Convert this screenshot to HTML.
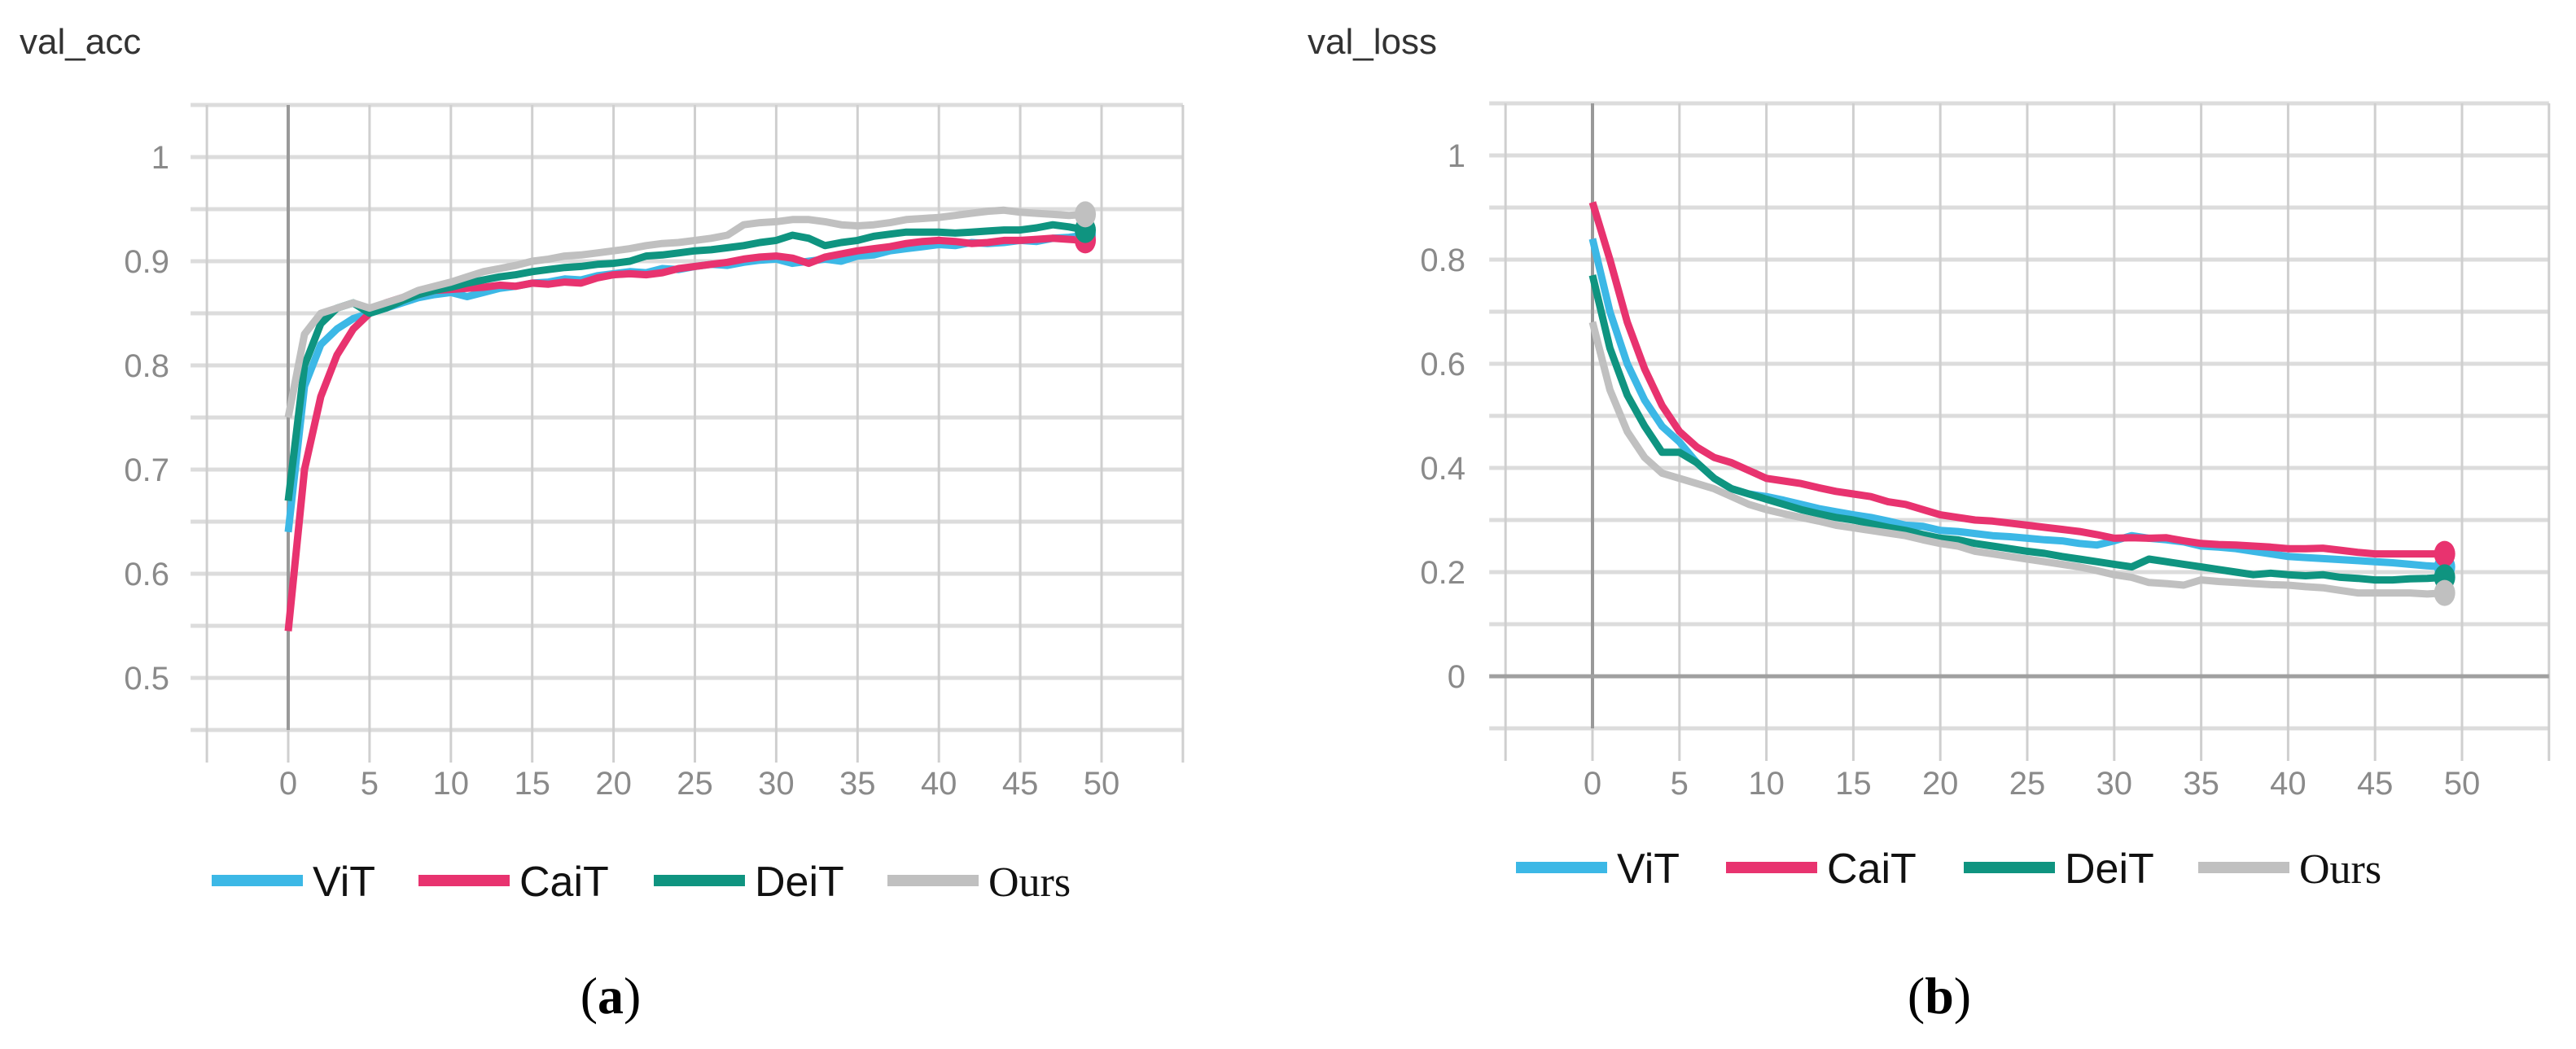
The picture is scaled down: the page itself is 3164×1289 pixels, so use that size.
<!DOCTYPE html>
<html><head><meta charset="utf-8"><style>
html,body{margin:0;padding:0;background:#fff;}
svg{display:block;}
.tick{font-family:"Liberation Sans",sans-serif;font-size:40px;fill:#8a8a8a;}
.title{font-family:"Liberation Sans",sans-serif;font-size:44px;fill:#333;}
.leg{font-family:"Liberation Sans",sans-serif;font-size:52px;fill:#111;}
.cap{font-family:"Liberation Serif",serif;font-size:64px;fill:#000;}
</style></head><body>
<svg id="fig" width="3164" height="1289" viewBox="0 0 3164 1289" xmlns="http://www.w3.org/2000/svg"></svg>
<script>
const epochs = Array.from({length:50},(_,i)=>i);
const seriesNames = ["ViT","CaiT","DeiT","Ours"];
const accViT  = [0.64,0.78,0.82,0.835,0.845,0.85,0.855,0.86,0.865,0.868,0.87,0.866,0.87,0.874,0.876,0.879,0.88,0.883,0.882,0.886,0.888,0.89,0.889,0.893,0.892,0.895,0.897,0.896,0.899,0.901,0.902,0.898,0.9,0.902,0.9,0.905,0.906,0.91,0.912,0.914,0.916,0.915,0.918,0.917,0.918,0.92,0.919,0.922,0.923,0.925];
const accCaiT = [0.545,0.70,0.77,0.81,0.835,0.85,0.86,0.865,0.868,0.872,0.873,0.874,0.875,0.877,0.876,0.879,0.878,0.88,0.879,0.884,0.887,0.888,0.887,0.889,0.893,0.895,0.897,0.899,0.902,0.904,0.905,0.903,0.898,0.904,0.907,0.91,0.912,0.914,0.917,0.919,0.92,0.919,0.917,0.918,0.92,0.92,0.921,0.922,0.921,0.92];
const accDeiT = [0.67,0.80,0.84,0.855,0.86,0.85,0.855,0.862,0.868,0.872,0.875,0.879,0.882,0.885,0.887,0.89,0.892,0.894,0.895,0.897,0.898,0.9,0.905,0.906,0.908,0.91,0.911,0.913,0.915,0.918,0.92,0.925,0.922,0.915,0.918,0.92,0.924,0.926,0.928,0.928,0.928,0.927,0.928,0.929,0.93,0.93,0.932,0.935,0.933,0.93];
const accOurs = [0.75,0.83,0.85,0.855,0.86,0.855,0.86,0.865,0.872,0.876,0.88,0.885,0.89,0.893,0.896,0.9,0.902,0.905,0.906,0.908,0.91,0.912,0.915,0.917,0.918,0.92,0.922,0.925,0.935,0.937,0.938,0.94,0.94,0.938,0.935,0.934,0.935,0.937,0.94,0.941,0.942,0.944,0.946,0.948,0.949,0.947,0.946,0.945,0.944,0.945];
const lossViT  = [0.84,0.70,0.60,0.53,0.48,0.45,0.41,0.38,0.36,0.35,0.345,0.338,0.33,0.322,0.316,0.31,0.305,0.298,0.29,0.288,0.28,0.278,0.274,0.27,0.268,0.265,0.262,0.26,0.255,0.252,0.26,0.27,0.265,0.262,0.258,0.25,0.248,0.245,0.24,0.235,0.23,0.228,0.226,0.224,0.222,0.22,0.218,0.215,0.212,0.21];
const lossCaiT = [0.91,0.80,0.68,0.59,0.52,0.47,0.44,0.42,0.41,0.395,0.38,0.375,0.37,0.362,0.355,0.35,0.345,0.335,0.33,0.32,0.31,0.305,0.30,0.298,0.294,0.29,0.286,0.282,0.278,0.272,0.265,0.266,0.265,0.266,0.26,0.255,0.253,0.252,0.25,0.248,0.245,0.245,0.246,0.242,0.238,0.235,0.235,0.235,0.235,0.235];
const lossDeiT = [0.77,0.63,0.54,0.48,0.43,0.43,0.41,0.38,0.36,0.35,0.34,0.33,0.32,0.312,0.305,0.30,0.293,0.286,0.28,0.272,0.265,0.262,0.255,0.25,0.245,0.24,0.236,0.23,0.225,0.22,0.215,0.21,0.225,0.22,0.215,0.21,0.205,0.2,0.195,0.198,0.195,0.193,0.195,0.19,0.188,0.185,0.185,0.187,0.188,0.19];
const lossOurs = [0.68,0.55,0.47,0.42,0.39,0.38,0.37,0.36,0.345,0.33,0.32,0.312,0.305,0.298,0.29,0.285,0.28,0.275,0.27,0.262,0.255,0.25,0.24,0.235,0.23,0.225,0.22,0.215,0.21,0.203,0.195,0.19,0.18,0.178,0.175,0.185,0.182,0.18,0.178,0.176,0.175,0.172,0.17,0.165,0.16,0.16,0.16,0.16,0.158,0.16];
const accTicks = [0.5,0.6,0.7,0.8,0.9,1];
const lossTicks = [0,0.2,0.4,0.6,0.8,1];
const xTicks = [0,5,10,15,20,25,30,35,40,45,50];
const colors = ["#3cb8e6","#e8336f","#0f9480","#c0c0c0"];

const NS="http://www.w3.org/2000/svg";
const svg=document.getElementById('fig');
function mk(tag,attrs,parent){const e=document.createElementNS(NS,tag);for(const k in attrs)e.setAttribute(k,attrs[k]);(parent||svg).appendChild(e);return e;}

function chart(o){
  const g=mk('g',{});
  
  
  const X=v=>o.x0+(v)*(o.x50-o.x0)/50;
  const Y=v=>o.yTop+(o.yMax-v)*(o.yBot-o.yTop)/(o.yMax-o.yMin);
  for(let v=o.yMin;v<=o.yMax+1e-9;v+=o.gstep){
    const l=mk('line',{x1:X(-5)-20,x2:X(55),y1:Y(v),y2:Y(v),stroke:'#dcdcdc','stroke-width':5},g);
    
    
  }
  for(let v=-5;v<=55;v+=5){
    const l=mk('line',{x1:X(v),x2:X(v),y1:o.yTop,y2:Y(o.yMin)+40,stroke:'#cfcfcf','stroke-width':3},g);
    
    
  }
  const ax=mk('line',{x1:X(0),x2:X(0),y1:o.yTop,y2:Y(o.yMin),stroke:'#999','stroke-width':4},g);
  
  
  if(o.zeroLine){
    const zl=mk('line',{x1:X(-5)-20,x2:X(55),y1:Y(0),y2:Y(0),stroke:'#a0a0a0','stroke-width':5},g);
    
    
  }
  o.yTicks.forEach(v=>{
    const t=mk('text',{x:o.labelX,y:Y(v)+14,'text-anchor':'end',class:'tick'},g);
    t.textContent=String(v);
    
    
  });
  xTicks.forEach(v=>{
    const t=mk('text',{x:X(v),y:976,'text-anchor':'middle',class:'tick'},g);
    t.textContent=String(v);
    
    
  });
  const ti=mk('text',{x:o.titleX,y:66,class:'title'},g);
  ti.textContent=o.title;
  
  
  o.series.forEach((s,i)=>{
    const d=epochs.map((e,j)=>(j?'L':'M')+X(e).toFixed(1)+','+Y(s[j]).toFixed(1)).join(' ');
    const p=mk('path',{d:d,fill:'none',stroke:colors[i],'stroke-width':9,'stroke-linejoin':'round'},g);
    
    
  });
  o.series.forEach((s,i)=>{
    const c=mk('ellipse',{cx:X(49),cy:Y(s[49]),rx:13,ry:16,fill:colors[i]},g);
    
    
  });
  o.legend.forEach((lx,i)=>{
    const sw=mk('line',{x1:lx,x2:lx+112,y1:o.legY,y2:o.legY,stroke:colors[i],'stroke-width':14},g);
    
    
    const t=mk('text',{x:lx+124,y:o.legY+19,class:'leg'},g);
    if(i===3){t.setAttribute('style','font-family:"Liberation Serif",serif');}
    t.textContent=seriesNames[i];
    
    
  });
  const cap=mk('text',{x:o.capX,y:1245,'text-anchor':'middle',class:'cap'},g);
  cap.innerHTML='(<tspan font-weight="bold">'+o.cap+'</tspan>)';
  
  
}
chart({name:'val-acc-chart',title:'val_acc',titleX:24,x0:354,x50:1353,yTop:129,yBot:897,yMax:1.05,yMin:0.45,gstep:0.05,
  yTicks:accTicks,labelX:208,series:[accViT,accCaiT,accDeiT,accOurs],legend:[260,514,803,1090],legY:1082,capX:750,cap:'a'});
chart({name:'val-loss-chart',title:'val_loss',titleX:1606,x0:1956,x50:3024,yTop:127,yBot:895,yMax:1.1,yMin:-0.1,gstep:0.1,
  yTicks:lossTicks,labelX:1800,series:[lossViT,lossCaiT,lossDeiT,lossOurs],legend:[1862,2120,2412,2700],legY:1066,capX:2382,cap:'b',zeroLine:true});
</script>
</body></html>
